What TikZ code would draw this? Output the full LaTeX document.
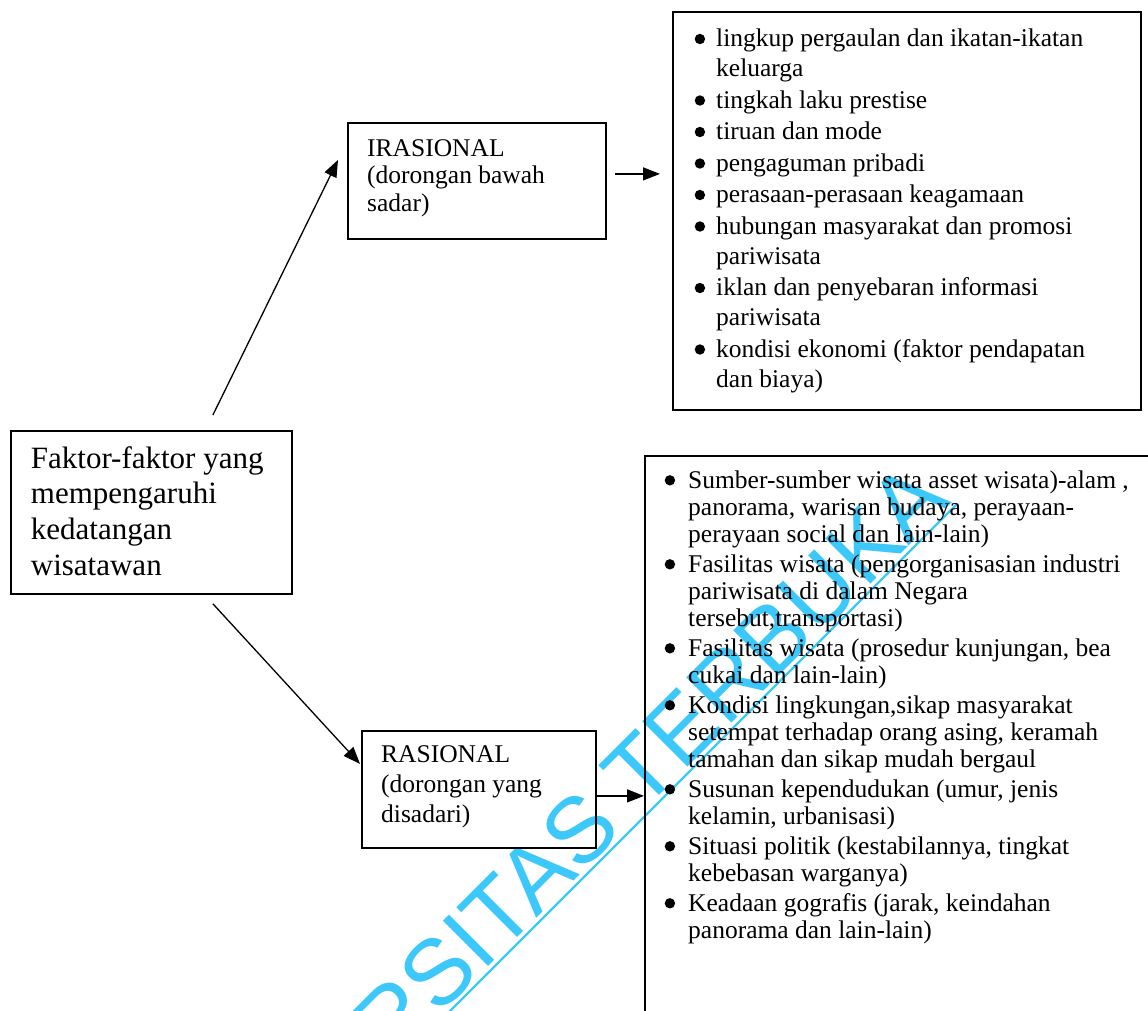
\documentclass[tikz,border=0pt]{standalone}
\usepackage{fontspec}
\setmainfont{Liberation Serif}
\newfontfamily\wmfont{Liberation Sans}
\usetikzlibrary{arrows.meta,calc}
\definecolor{wmblue}{RGB}{60,200,250}

% round list bullet, and a bullet cell of a given width
\newcommand\bul{\tikz[baseline=0pt]\fill (5.2pt,7.7pt) circle (5.2pt);}
\newcommand\bb[1]{\makebox[#1][l]{\hspace*{-0.5pt}\bul}}

\tikzset{
  frame/.style={draw=black, line width=1.8pt, rectangle, inner sep=0pt, anchor=north west},
  txt/.style={inner sep=0pt, anchor=base west},
  arr/.style={line width=1.3pt, -{Triangle[length=17pt,width=13pt]}},
  wm/.style={text=wmblue, inner sep=0pt, font=\wmfont\fontsize{93}{93}\selectfont},
}

\begin{document}
\begin{tikzpicture}[x=1pt,y=-1pt]
\useasboundingbox (0,0) rectangle (1148,1010);
\clip (0,0) rectangle (1148,1010);

% watermark
\node[wm, rotate=45, anchor=base east] (wmT) at (953,502) {UNIVERSITAS TERBUKA};
\coordinate (wmA) at (957,504);
\coordinate (wmB) at (380,1081);
\draw[wmblue, line width=2.2pt] (wmA) -- (wmB);

% frames
\node[frame, minimum width=281pt, minimum height=163pt] (fak) at (10,430) {};
\node[frame, minimum width=258pt, minimum height=116pt] (iras) at (347,122) {};
\node[frame, minimum width=234pt, minimum height=117pt] (ras) at (361,730) {};
\node[frame, minimum width=468pt, minimum height=398pt] (top) at (672,11) {};
\node[frame, minimum width=600pt, minimum height=700pt] (bot) at (644,455) {};

% texts
\node[txt, font=\fontsize{31}{35.6}\selectfont] (fakT) at (30.7,468.3)
  {\begin{tabular}[t]{@{}l@{}}Faktor-faktor yang\\mempengaruhi\\kedatangan\\wisatawan\end{tabular}};
\node[txt, font=\fontsize{25.5}{27.5}\selectfont] (irasT) at (367,156)
  {\begin{tabular}[t]{@{}l@{}}IRASIONAL\\(dorongan bawah\\sadar)\end{tabular}};
\node[txt, font=\fontsize{25.5}{30}\selectfont] (rasT) at (381,762.7)
  {\begin{tabular}[t]{@{}l@{}}RASIONAL\\(dorongan yang\\disadari)\end{tabular}};

\node[txt, font=\fontsize{25.5}{30}\selectfont] (topT) at (695,46.7)
  {\begin{tabular}[t]{@{}l@{}l@{}}
   \bb{21pt} & lingkup pergaulan dan ikatan-ikatan\\
             & keluarga\\[1.5pt]
   \bb{21pt} & tingkah laku prestise\\[1.5pt]
   \bb{21pt} & tiruan dan mode\\[1.5pt]
   \bb{21pt} & pengaguman pribadi\\[1.5pt]
   \bb{21pt} & perasaan-perasaan keagamaan\\[1.5pt]
   \bb{21pt} & hubungan masyarakat dan promosi\\
             & pariwisata\\[1.5pt]
   \bb{21pt} & iklan dan penyebaran informasi\\
             & pariwisata\\[1.5pt]
   \bb{21pt} & kondisi ekonomi (faktor pendapatan\\
             & dan biaya)
   \end{tabular}};

\node[txt, font=\fontsize{25.5}{27}\selectfont] (botT) at (665,488)
  {\begin{tabular}[t]{@{}l@{}l@{}}
   \bb{23pt} & Sumber-sumber wisata asset wisata)-alam ,\\
             & panorama, warisan budaya, perayaan-\\
             & perayaan social dan lain-lain)\\[3pt]
   \bb{23pt} & Fasilitas wisata (pengorganisasian industri\\
             & pariwisata di dalam Negara\\
             & tersebut,transportasi)\\[3pt]
   \bb{23pt} & Fasilitas wisata (prosedur kunjungan, bea\\
             & cukai dan lain-lain)\\[3pt]
   \bb{23pt} & Kondisi lingkungan,sikap masyarakat\\
             & setempat terhadap orang asing, keramah\\
             & tamahan dan sikap mudah bergaul\\[3pt]
   \bb{23pt} & Susunan kependudukan (umur, jenis\\
             & kelamin, urbanisasi)\\[3pt]
   \bb{23pt} & Situasi politik (kestabilannya, tingkat\\
             & kebebasan warganya)\\[3pt]
   \bb{23pt} & Keadaan gografis (jarak, keindahan\\
             & panorama dan lain-lain)
   \end{tabular}};

% connectors
\draw[arr] ([xshift=61.5pt,yshift=15pt]fak.north) -- ([xshift=-9pt,yshift=21pt]iras.west);
\draw[arr] ([xshift=61.5pt,yshift=-9pt]fak.south) -- ([xshift=-1pt,yshift=25.5pt]ras.west);
\draw[arr] ([xshift=8pt,yshift=7pt]iras.east) -- ($(top.west |- iras.east)+(-12,-7)$);
\draw[arr] ([yshift=-6.5pt]ras.east) -- ([yshift=-6.5pt]ras.east -| bot.west);
\end{tikzpicture}
\end{document}
